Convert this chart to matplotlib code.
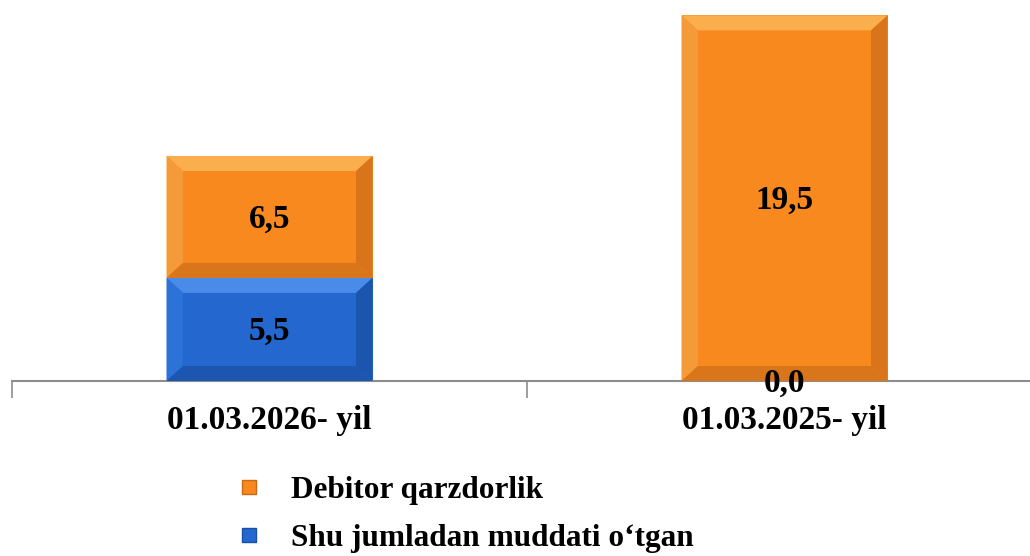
import numpy as np
import matplotlib.pyplot as plt
from matplotlib.patches import Polygon
from matplotlib.lines import Line2D

categories = ['01.03.2026- yil', '01.03.2025- yil']
overdue = [5.5, 0.0]       # Shu jumladan muddati o‘tgan
debitor = [6.5, 19.5]      # Debitor qarzdorlik
labels = ['Debitor qarzdorlik', 'Shu jumladan muddati o‘tgan']

orange = '#F7891F'
blue = '#2467CF'

plt.rcParams['font.family'] = ['Liberation Serif', 'DejaVu Serif']
plt.rcParams['font.weight'] = 'bold'

fig = plt.figure(figsize=(10.30, 5.56), dpi=100)
ax = fig.add_axes([12/1030, (556-381)/556, 1.0, 381/556])

x = np.arange(len(categories))
b1 = ax.bar(x, overdue, width=0.40, color=blue, edgecolor='none', zorder=2)
b2 = ax.bar(x, debitor, width=0.40, bottom=overdue, color=orange,
            edgecolor='none', zorder=2)

ax.set_xlim(-0.5, 1.5)
ax.set_ylim(0, 20.32)


def bevel(bar, light, dark, side_l, side_r):
    x0, y0 = bar.get_x(), bar.get_y()
    w, h = bar.get_width(), bar.get_height()
    if h <= 0:
        return
    dx = 0.032
    dy = min(0.8, h / 3)
    x1, y1 = x0 + w, y0 + h
    polys = [
        ([(x0, y1), (x1, y1), (x1 - dx, y1 - dy), (x0 + dx, y1 - dy)], light),
        ([(x0, y0), (x0, y1), (x0 + dx, y1 - dy), (x0 + dx, y0 + dy)], side_l),
        ([(x1, y0), (x1, y1), (x1 - dx, y1 - dy), (x1 - dx, y0 + dy)], side_r),
        ([(x0, y0), (x1, y0), (x1 - dx, y0 + dy), (x0 + dx, y0 + dy)], dark),
    ]
    for pts, c in polys:
        ax.add_patch(Polygon(pts, closed=True, facecolor=c, edgecolor='none',
                             zorder=3))


for bar in b1:
    bevel(bar, '#4A8BEA', '#1D56B0', '#2D72D6', '#1B55AE')
for bar in b2:
    bevel(bar, '#FBAE4E', '#D9761C', '#F59A38', '#D8741A')

for bars, vals in ((b1, overdue), (b2, debitor)):
    for bar, v in zip(bars, vals):
        ax.text(bar.get_x() + bar.get_width() / 2,
                bar.get_y() + bar.get_height() / 2 - 0.1,
                f'{v:.1f}'.replace('.', ','), ha='center', va='center',
                fontsize=24, fontweight='bold', color='black', zorder=5)

for s in ('top', 'right', 'left'):
    ax.spines[s].set_visible(False)
ax.spines['bottom'].set_color('#8C8C8C')
ax.spines['bottom'].set_linewidth(1.5)
ax.set_yticks([])
ax.set_xticks([-0.5, 0.5, 1.5], minor=False)
ax.set_xticklabels([])
ax.tick_params(axis='x', length=12, color='#8C8C8C', width=1.2)
ax.set_xticks(x, minor=True)
ax.set_xticklabels(categories, minor=True, fontsize=24, fontweight='bold')
ax.tick_params(axis='x', which='minor', length=0, pad=17)

handles = [Line2D([], [], marker='s', ls='none', markersize=10,
                  markerfacecolor=orange, markeredgecolor='#C96A16'),
           Line2D([], [], marker='s', ls='none', markersize=10,
                  markerfacecolor=blue, markeredgecolor='#1A4FA6')]
fig.legend(handles, labels, loc='upper left', bbox_to_anchor=(233/1030, 1 - 476/556),
           frameon=False, prop={'size': 22.5, 'weight': 'bold'},
           borderpad=0, borderaxespad=0,
           handlelength=1.0, handletextpad=0.85, labelspacing=0.62)

fig.savefig('out.png', dpi=100)
